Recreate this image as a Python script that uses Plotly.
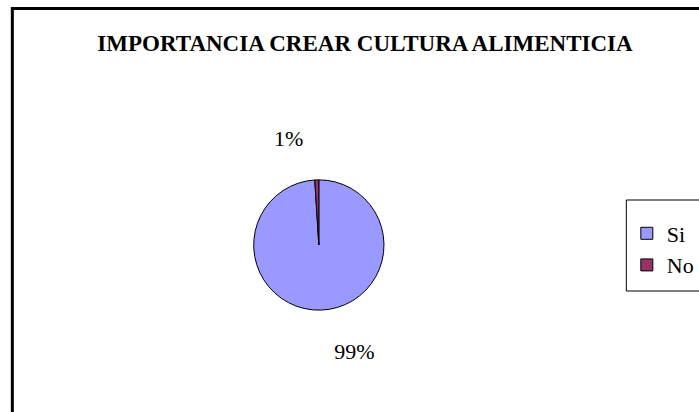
import plotly.graph_objects as go

labels = ["Si", "No"]
values = [99, 1]
colors = ["#9999FF", "#993366"]
title_text = "IMPORTANCIA CREAR CULTURA ALIMENTICIA"

W, H = 699, 412

def px_x(p):
    return p / W

def px_y(p):
    return 1 - p / H

cx, cy, half = 323, 245, 66

fig = go.Figure()
fig.add_trace(go.Pie(
    labels=labels,
    values=values,
    sort=False,
    direction="clockwise",
    rotation=0,
    marker=dict(colors=colors, line=dict(color="black", width=1)),
    textinfo="percent",
    texttemplate=["&nbsp;<br>%{percent}", "%{percent}<br>&nbsp;"],
    textposition="outside",
    textfont=dict(family="Liberation Serif", size=22, color="black"),
    domain=dict(x=[px_x(cx - half), px_x(cx + half)],
                y=[px_y(cy + half), px_y(cy - half)]),
    showlegend=True,
    hoverinfo="label+percent",
))

fig.update_layout(
    width=W, height=H,
    margin=dict(l=0, r=0, t=0, b=0),
    paper_bgcolor="white",
    plot_bgcolor="white",
    title=dict(text="<b>" + title_text + "</b>",
               font=dict(family="Liberation Serif", size=23, color="black"),
               x=px_x(365), xanchor="center",
               y=px_y(43), yanchor="middle"),
    legend=dict(
        x=px_x(635), xanchor="left",
        y=px_y(249.5), yanchor="middle",
        borderwidth=0,
        bgcolor="rgba(0,0,0,0)",
        font=dict(family="Liberation Serif", size=22, color="black"),
        itemwidth=30,
    ),
    shapes=[
        dict(type="rect", xref="paper", yref="paper",
             x0=px_x(12.5), x1=1.2, y0=-0.2, y1=px_y(8.5),
             line=dict(color="black", width=3), fillcolor="rgba(0,0,0,0)",
             layer="above"),
        dict(type="rect", xref="paper", yref="paper",
             x0=px_x(634.5), x1=1.2, y0=px_y(291), y1=px_y(200),
             line=dict(color="black", width=1), fillcolor="rgba(0,0,0,0)",
             layer="below"),
    ],
)

fig.write_html(
    "out.html",
    config={"displayModeBar": False},
    post_script="document.body.style.margin='0';document.body.style.overflow='hidden';",
)
